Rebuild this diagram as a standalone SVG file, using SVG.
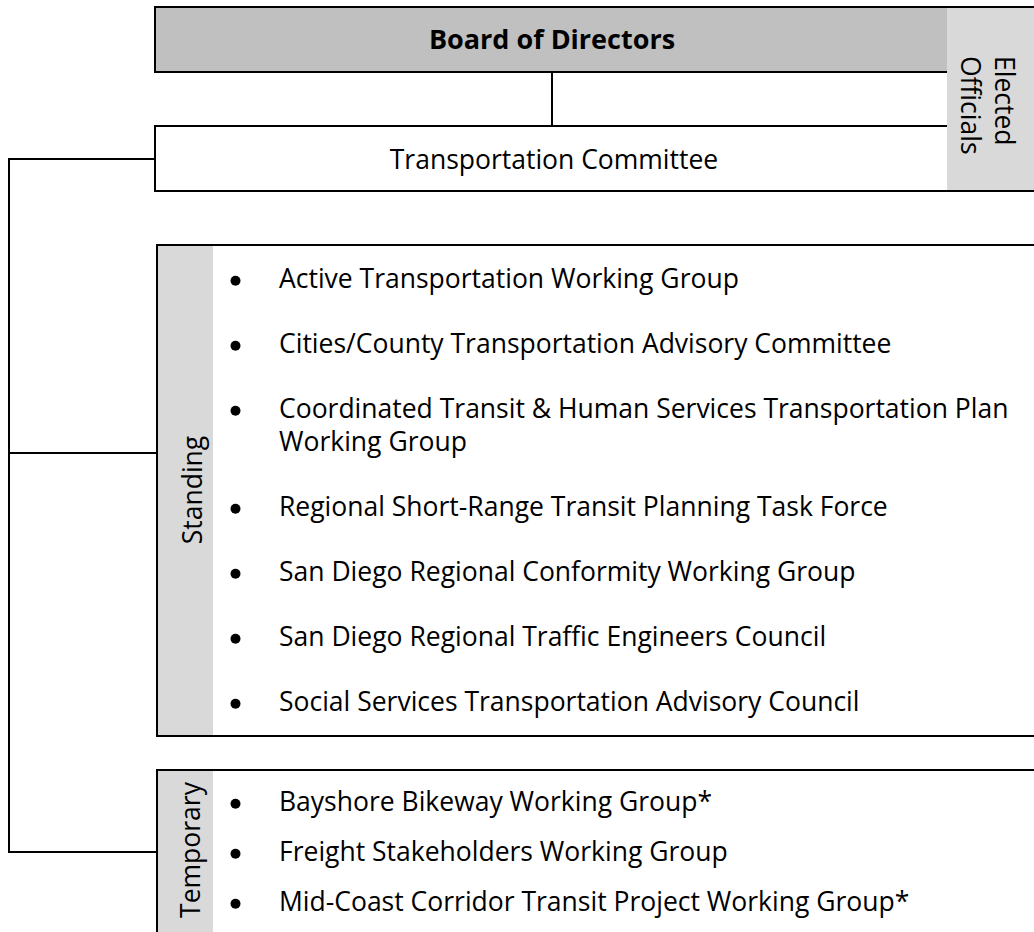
<svg xmlns="http://www.w3.org/2000/svg" width="1034" height="932" viewBox="0 0 1034 932">
<style>
.ln{stroke:#000;stroke-width:2;fill:none}
.t{font-family:"Open Sans","Noto Sans","Liberation Sans",sans-serif;font-size:26.5px;fill:#000}
.b{font-weight:bold;font-size:27px}
.mid{text-anchor:middle}
.dark{fill:#c0c0c0}
.light{fill:#d9d9d9}
.dot{fill:#000}
</style>
<rect width="1034" height="932" fill="#fff"/>
<g id="connectors">
<path class="ln" d="M552,72 V126"/>
<path class="ln" d="M155,159 H9 V852 H157"/>
<path class="ln" d="M9,453 H157"/>
</g>
<g id="board">
<rect class="dark" x="155" y="7" width="792" height="65"/>
<path class="ln" d="M1034,7 H155 V72 H947"/>
<text class="t b mid" x="552" y="49">Board of Directors</text>
</g>
<g id="elected">
<rect class="light" x="947" y="7" width="87" height="184"/>
<path class="ln" d="M947,7 H1034"/>
<text class="t" transform="translate(995,56) rotate(90)">Elected</text>
<text class="t" transform="translate(961,56) rotate(90)">Officials</text>
</g>
<g id="committee">
<path class="ln" d="M947,126 H155 V191 H1034"/>
<text class="t mid" x="554" y="169">Transportation Committee</text>
</g>
<g id="standing">
<rect class="light" x="157" y="245" width="56" height="491"/>
<path class="ln" d="M1034,245 H157 V736 H1034"/>
<text class="t mid" transform="translate(202,490) rotate(-90)">Standing</text>
<circle class="dot" cx="235.5" cy="280.7" r="5"/>
<text class="t" x="279" y="288">Active Transportation Working Group</text>
<circle class="dot" cx="235.5" cy="345.7" r="5"/>
<text class="t" x="279" y="353">Cities/County Transportation Advisory Committee</text>
<circle class="dot" cx="235.5" cy="410.7" r="5"/>
<text class="t" x="279" y="418">Coordinated Transit &amp; Human Services Transportation Plan</text>
<text class="t" x="279" y="451">Working Group</text>
<circle class="dot" cx="235.5" cy="508.7" r="5"/>
<text class="t" x="279" y="516">Regional Short-Range Transit Planning Task Force</text>
<circle class="dot" cx="235.5" cy="573.7" r="5"/>
<text class="t" x="279" y="581">San Diego Regional Conformity Working Group</text>
<circle class="dot" cx="235.5" cy="638.7" r="5"/>
<text class="t" x="279" y="646">San Diego Regional Traffic Engineers Council</text>
<circle class="dot" cx="235.5" cy="703.7" r="5"/>
<text class="t" x="279" y="711">Social Services Transportation Advisory Council</text>
</g>
<g id="temporary">
<rect class="light" x="157" y="770" width="56" height="162"/>
<path class="ln" d="M1034,770 H157 V932"/>
<text class="t mid" transform="translate(200,850) rotate(-90)">Temporary</text>
<circle class="dot" cx="235.5" cy="803.7" r="5"/>
<text class="t" x="279" y="811">Bayshore Bikeway Working Group*</text>
<circle class="dot" cx="235.5" cy="853.7" r="5"/>
<text class="t" x="279" y="861">Freight Stakeholders Working Group</text>
<circle class="dot" cx="235.5" cy="903.7" r="5"/>
<text class="t" x="279" y="911">Mid-Coast Corridor Transit Project Working Group*</text>
</g>
</svg>
